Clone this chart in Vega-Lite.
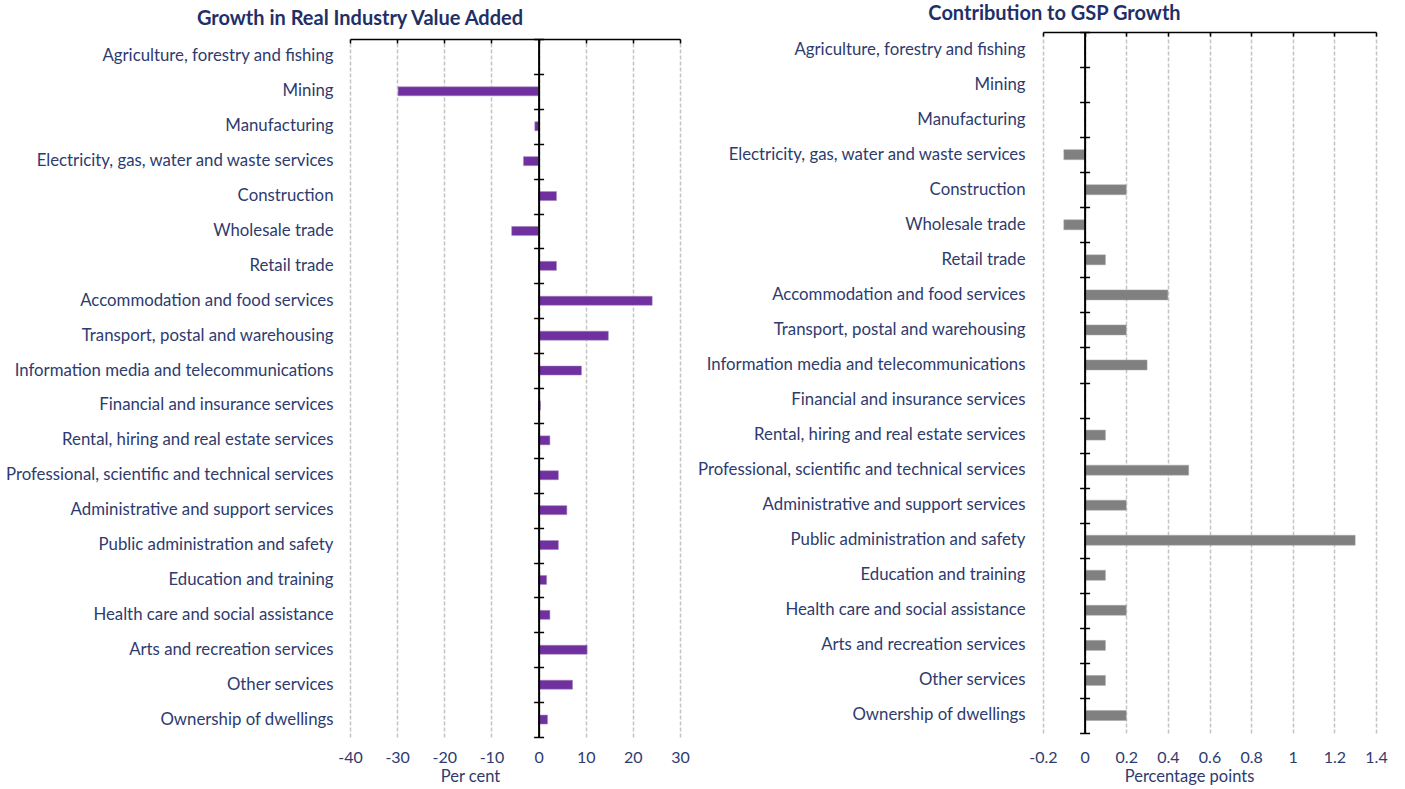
{
  "$schema": "https://vega.github.io/schema/vega-lite/v6.json",
  "background": "white",
  "padding": {"left": 5, "top": 4, "right": 5, "bottom": 0},
  "config": {"view": {"stroke": null}, "font": "Lato"},
  "datasets": {
    "ind": [
      {"industry": "Agriculture, forestry and fishing", "growth": 0, "contrib": 0},
      {"industry": "Mining", "growth": -29.8, "contrib": 0},
      {"industry": "Manufacturing", "growth": -0.8, "contrib": 0},
      {"industry": "Electricity, gas, water and waste services", "growth": -3.2, "contrib": -0.1},
      {"industry": "Construction", "growth": 3.8, "contrib": 0.2},
      {"industry": "Wholesale trade", "growth": -5.7, "contrib": -0.1},
      {"industry": "Retail trade", "growth": 3.8, "contrib": 0.1},
      {"industry": "Accommodation and food services", "growth": 24.1, "contrib": 0.4},
      {"industry": "Transport, postal and warehousing", "growth": 14.8, "contrib": 0.2},
      {"industry": "Information media and telecommunications", "growth": 9.1, "contrib": 0.3},
      {"industry": "Financial and insurance services", "growth": 0.4, "contrib": 0},
      {"industry": "Rental, hiring and real estate services", "growth": 2.4, "contrib": 0.1},
      {"industry": "Professional, scientific and technical services", "growth": 4.2, "contrib": 0.5},
      {"industry": "Administrative and support services", "growth": 6.0, "contrib": 0.2},
      {"industry": "Public administration and safety", "growth": 4.2, "contrib": 1.3},
      {"industry": "Education and training", "growth": 1.7, "contrib": 0.1},
      {"industry": "Health care and social assistance", "growth": 2.4, "contrib": 0.2},
      {"industry": "Arts and recreation services", "growth": 10.3, "contrib": 0.1},
      {"industry": "Other services", "growth": 7.2, "contrib": 0.1},
      {"industry": "Ownership of dwellings", "growth": 1.9, "contrib": 0.2}
    ]
  },
  "data": {"name": "ind"},
  "spacing": 7,
  "hconcat": [
    {
      "spacing": 5,
      "vconcat": [
        {
          "width": 330,
          "height": 1,
          "title": {"text": "Growth in Real Industry Value Added", "fontSize": 20, "fontWeight": "bold", "color": "#1F3068", "anchor": "middle", "dx": -155, "offset": 3},
          "mark": {"type": "rule", "opacity": 0},
          "encoding": {}
        },
        {
          "width": 330,
          "height": 698,
          "resolve": {"axis": {"x": "independent", "y": "independent"}},
          "layer": [
            {
              "mark": {"type": "bar", "color": "#7030A0", "size": 9, "stroke": "#9d86b5", "strokeWidth": 0.5},
              "encoding": {
                "x": {"field": "growth", "type": "quantitative", "scale": {"domain": [-40, 30], "nice": false, "zero": false},
                  "axis": {"orient": "bottom", "values": [-40, -30, -20, -10, 0, 10, 20, 30], "grid": true, "gridColor": "#c4c4c4", "gridDash": [4, 2], "gridWidth": 1.5, "domain": false, "ticks": false, "labelFlush": false, "labelFontSize": 16, "labelColor": "#2E3B6E", "labelPadding": 12, "labelExpr": "replace(datum.label, '\u2212', '-')", "title": "Per cent", "titleX": 120, "titleAlign": "center", "titleFontSize": 16.5, "titleFontWeight": "normal", "titleColor": "#2E3B6E", "titlePadding": 3}},
                "y": {"field": "industry", "type": "nominal", "sort": null, "scale": {"paddingInner": 0, "paddingOuter": 0},
                  "axis": {"title": null, "domain": false, "ticks": false, "labelFontSize": 16.8, "labelColor": "#2E3B6E", "labelPadding": 17, "labelLimit": 500}}
              }
            },
            {
              "mark": {"type": "bar", "opacity": 0},
              "encoding": {
                "x": {"field": "growth", "type": "quantitative",
                  "axis": {"orient": "top", "values": [-40, -30, -20, -10, 0, 10, 20, 30], "labels": false, "grid": false, "domain": true, "domainColor": "black", "domainWidth": 1.5, "ticks": true, "tickColor": "black", "tickWidth": 1.5, "tickSize": -4, "title": null}},
                "y": {"field": "industry", "type": "nominal", "sort": null,
                  "axis": {"orient": "left", "offset": -188.6, "labels": false, "title": null, "domain": true, "domainColor": "black", "domainWidth": 2, "ticks": true, "tickBand": "extent", "tickSize": 5, "tickColor": "black", "tickWidth": 1.5, "zindex": 1}}
              }
            },
            {
              "mark": {"type": "bar", "opacity": 0},
              "encoding": {
                "x": {"field": "growth", "type": "quantitative", "axis": null},
                "y": {"field": "industry", "type": "nominal", "sort": null,
                  "axis": {"orient": "right", "offset": -141.4, "labels": false, "title": null, "domain": false, "ticks": true, "tickBand": "extent", "tickSize": 5, "tickColor": "black", "tickWidth": 1.5, "zindex": 1}}
              }
            }
          ]
        }
      ]
    },
    {
      "width": 333,
      "height": 701,
      "title": {"text": "Contribution to GSP Growth", "fontSize": 20, "fontWeight": "bold", "color": "#1F3068", "anchor": "middle", "dx": -155, "offset": 7},
      "resolve": {"axis": {"x": "independent", "y": "independent"}},
      "layer": [
        {
          "mark": {"type": "bar", "color": "#808080", "size": 10, "stroke": "#a6a6a6", "strokeWidth": 0.5},
          "encoding": {
            "x": {"field": "contrib", "type": "quantitative", "scale": {"domain": [-0.2, 1.4], "nice": false, "zero": false},
              "axis": {"orient": "bottom", "values": [-0.2, 0, 0.2, 0.4, 0.6, 0.8, 1, 1.2, 1.4], "format": "~g", "grid": true, "gridColor": "#c4c4c4", "gridDash": [4, 2], "gridWidth": 1.5, "domain": false, "ticks": false, "labelFlush": false, "labelFontSize": 16, "labelColor": "#2E3B6E", "labelPadding": 16, "labelExpr": "replace(datum.label, '\u2212', '-')", "title": "Percentage points", "titleX": 146, "titleAlign": "center", "titleFontSize": 16.5, "titleFontWeight": "normal", "titleColor": "#2E3B6E", "titlePadding": 3}},
            "y": {"field": "industry", "type": "nominal", "sort": null, "scale": {"paddingInner": 0, "paddingOuter": 0},
              "axis": {"title": null, "domain": false, "ticks": false, "labelFontSize": 16.8, "labelColor": "#2E3B6E", "labelPadding": 18, "labelLimit": 500}}
          }
        },
        {
          "mark": {"type": "bar", "opacity": 0},
          "encoding": {
            "x": {"field": "contrib", "type": "quantitative",
              "axis": {"orient": "top", "values": [-0.2, 0, 0.2, 0.4, 0.6, 0.8, 1, 1.2, 1.4], "labels": false, "grid": false, "domain": true, "domainColor": "black", "domainWidth": 1.5, "ticks": true, "tickColor": "black", "tickWidth": 1.5, "tickSize": -4, "title": null}},
            "y": {"field": "industry", "type": "nominal", "sort": null,
              "axis": {"orient": "left", "offset": -41.6, "labels": false, "title": null, "domain": true, "domainColor": "black", "domainWidth": 2, "ticks": true, "tickBand": "extent", "tickSize": 5, "tickColor": "black", "tickWidth": 1.5, "zindex": 1}}
          }
        },
        {
          "mark": {"type": "bar", "opacity": 0},
          "encoding": {
            "x": {"field": "contrib", "type": "quantitative", "axis": null},
            "y": {"field": "industry", "type": "nominal", "sort": null,
              "axis": {"orient": "right", "offset": -291.4, "labels": false, "title": null, "domain": false, "ticks": true, "tickBand": "extent", "tickSize": 5, "tickColor": "black", "tickWidth": 1.5, "zindex": 1}}
          }
        }
      ]
    }
  ]
}
